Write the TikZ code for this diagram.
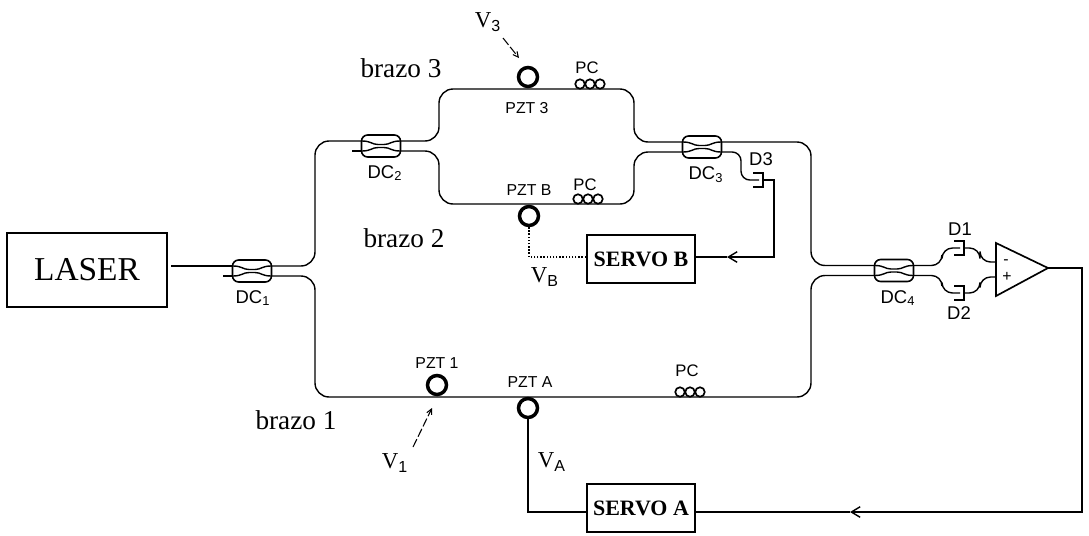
\documentclass[tikz,border=0pt]{standalone}
\usepackage{fontspec}
\setmainfont{Liberation Serif}
\setsansfont{Liberation Sans}
\usetikzlibrary{arrows.meta}
\tikzset{
  fibre/.style={line width=0.8pt, rounded corners=8pt},
  signal/.style={line width=0.8pt},
  feedtip/.style={signal, -{Straight Barb[length=5pt,width=6pt]}},
  probe/.style={line width=0.6pt, dashed, dash pattern=on 5pt off 1.5pt, -{Straight Barb[length=3pt,width=3pt]}},
  boxed/.style={draw=black, line width=1.25pt, inner sep=0pt, font=\fontsize{12.5}{14}\selectfont\bfseries},
  couplerbox/.style={draw=black, line width=0.9pt, rounded corners=3.5pt, minimum width=0.78cm, minimum height=0.44cm, inner sep=0pt},
  pzt/.style={draw=black, circle, line width=2pt, fill=white, minimum size=0.38cm, inner sep=0pt},
  loopring/.style={draw=black, circle, line width=0.95pt, minimum size=0.19cm, inner sep=0pt},
  tag/.style={inner sep=0pt, font=\sffamily\fontsize{9}{10}\selectfont},
  pctag/.style={tag, font=\sffamily\fontsize{9.5}{10}\selectfont},
  dctag/.style={tag, font=\sffamily\fontsize{10.5}{11}\selectfont},
  armtag/.style={inner sep=0pt, font=\fontsize{15.5}{17}\selectfont},
  voltage/.style={inner sep=0pt, font=\fontsize{13}{15}\selectfont}
}
% coupler: name, x, y
\newcommand{\coupler}[3]{
  \node[couplerbox] (#1) at (#2,#3) {};
  \coordinate (#1ul) at (#2-19,#3-5);
  \coordinate (#1ll) at (#2-19,#3+5);
  \coordinate (#1ur) at (#2+19,#3-5);
  \coordinate (#1lr) at (#2+19,#3+5);
  \draw[signal] (#1ul) .. controls (#2-10,#3-5) and (#2-9,#3-1.5) .. (#2-3,#3-1.5) -- (#2+3,#3-1.5) .. controls (#2+9,#3-1.5) and (#2+10,#3-5) .. (#1ur);
  \draw[signal] (#1ll) .. controls (#2-10,#3+5) and (#2-9,#3+1.5) .. (#2-3,#3+1.5) -- (#2+3,#3+1.5) .. controls (#2+9,#3+1.5) and (#2+10,#3+5) .. (#1lr);
}
% polarisation controller: name, x, y of the middle loop
\newcommand{\polctl}[3]{
  \node[loopring] (#1a) at (#2-10,#3) {};
  \node[loopring] (#1b) at (#2,#3) {};
  \node[loopring] (#1c) at (#2+10,#3) {};
}
% detector: name, x, y of the flat side
\newcommand{\detector}[3]{
  \coordinate (#1in) at (#2-4,#3);
  \coordinate (#1out) at (#2,#3);
  \draw[line width=1.2pt] (#2-10,#3-7) -- (#2,#3-7) -- (#2,#3+7) -- (#2-10,#3+7);
}

\begin{document}
\begin{tikzpicture}[x=0.02cm, y=-0.02cm]
  \useasboundingbox (0,0) rectangle (1089,535);
  % boxes
  \node[boxed, minimum width=3.2cm, minimum height=1.48cm, font=\fontsize{19}{21}\selectfont] (laser) at (87,270) {LASER};
  \node[boxed, minimum width=2.16cm, minimum height=0.96cm] (servob) at (641,259) {SERVO B};
  \node[boxed, minimum width=2.16cm, minimum height=0.96cm] (servoa) at (641,508) {SERVO A};
  % couplers
  \coupler{dca}{252}{271}
  \coupler{dcb}{381}{146}
  \coupler{dcc}{702}{147}
  \coupler{dcd}{894}{270.5}
  \coordinate (stuba) at (223,276);
  \coordinate (stubb) at (352,151);
  \coordinate (laserout) at (171,266);
  % fibre arms
  \draw[fibre] (laserout) -- (dcaul);
  \draw[fibre] (stuba) -- (dcall);
  \draw[fibre] (stubb) -- (dcbll);
  \draw[fibre] (dcaur) -- (315,266) -- (315,141) -- (dcbul);
  \draw[fibre] (dcalr) -- (315,276) -- (315,397) -- (811,397) -- (811,275.5) -- (dcdll);
  \draw[fibre] (dcbur) -- (439,141) -- (439,89) -- (634,89) -- (634,142) -- (dccul);
  \draw[fibre] (dcblr) -- (439,151) -- (439,204) -- (634,204) -- (634,152) -- (dccll);
  \draw[fibre] (dccur) -- (811,142) -- (811,265.5) -- (dcdul);
  % piezo stretchers
  \node[pzt] (pztc) at (528,77) {};
  \node[pzt] (pztb) at (529,216) {};
  \node[pzt] (pzta) at (437,385) {};
  \node[pzt] (pztd) at (528,408) {};
  \polctl{pcc}{590}{84}
  \polctl{pcb}{588}{199}
  \polctl{pca}{690}{392}
  % detectors
  \detector{dthree}{763}{180}
  \detector{done}{964}{248}
  \detector{dtwo}{964}{293}
  \draw[fibre, rounded corners=5pt] (dcclr) -- (741,152) -- (741,180) -- (dthreein);
  \draw[fibre, rounded corners=6pt] (dcdur) -- (942,265.5) -- (942,248) -- (donein);
  \draw[fibre, rounded corners=6pt] (dcdlr) -- (942,275.5) -- (942,293) -- (dtwoin);
  % amplifier
  \coordinate (amptop) at (996,243);
  \coordinate (ampbot) at (996,296);
  \coordinate (ampout) at (1048,268);
  \coordinate (ampminus) at (996,262);
  \coordinate (ampplus) at (996,277);
  \draw[line width=0.95pt] (amptop) -- (ampbot) -- (ampout) -- cycle;
  \node[tag] (minus) at (1006,262) {-};
  \node[tag] (plus) at (1007,277) {+};
  \draw[fibre, rounded corners=6pt] (doneout) -- (980,248) -- (980,262) -- (ampminus);
  \draw[fibre, rounded corners=6pt] (dtwoout) -- (980,293) -- (980,277) -- (ampplus);
  % electrical feedback
  \coordinate (feedb) at (727,257);
  \coordinate (feeda) at (850,512);
  \draw[feedtip] (dthreeout) -- (774,180) -- (774,257) -- (feedb);
  \draw[signal] (feedb) -- (servob.east |- feedb);
  \draw[feedtip] (ampout) -- (1082,268) -- (1082,512) -- (feeda);
  \draw[signal] (feeda) -- (servoa.east |- feeda);
  \draw[signal] (servoa.west |- feeda) -- (528,512) -- (pztd);
  \draw[signal, densely dotted] (servob.west |- feedb) -- (529,257) -- (pztb);
  % applied voltages
  \node[voltage] (vthree) at (488,22) {V$_{\mathsf 3}$};
  \node[voltage] (vone) at (395,463) {V$_{\mathsf 1}$};
  \node[voltage] (vb) at (545,277) {V$_{\mathsf B}$};
  \node[voltage] (va) at (552,462) {V$_{\mathsf A}$};
  \coordinate (vthreetip) at (519,58);
  \coordinate (vonetip) at (432,408);
  \draw[probe] (503,38) -- (vthreetip);
  \draw[probe] (413,447) -- (vonetip);
  % labels
  \node[armtag] (brazoc) at (401,68) {brazo 3};
  \node[armtag] (brazob) at (404,238) {brazo 2};
  \node[armtag] (brazoa) at (296,420) {brazo 1};
  \node[tag] (pztclab) at (527,108) {PZT 3};
  \node[tag] (pztblab) at (529,190) {PZT B};
  \node[tag] (pztalab) at (437,363) {PZT 1};
  \node[tag] (pztdlab) at (530,382) {PZT A};
  \node[pctag] (pcclab) at (587,68) {PC};
  \node[pctag] (pcblab) at (585,185) {PC};
  \node[pctag] (pcalab) at (687,371) {PC};
  \node[dctag] (dcalab) at (253,298) {DC$_{\mathsf 1}$};
  \node[dctag] (dcblab) at (385,173) {DC$_{\mathsf 2}$};
  \node[dctag] (dcclab) at (706,175) {DC$_{\mathsf 3}$};
  \node[dctag] (dcdlab) at (898,298) {DC$_{\mathsf 4}$};
  \node[dctag] (dthreelab) at (761,159) {D3};
  \node[dctag] (donelab) at (960,229) {D1};
  \node[dctag] (dtwolab) at (959,313) {D2};
\end{tikzpicture}
\end{document}
